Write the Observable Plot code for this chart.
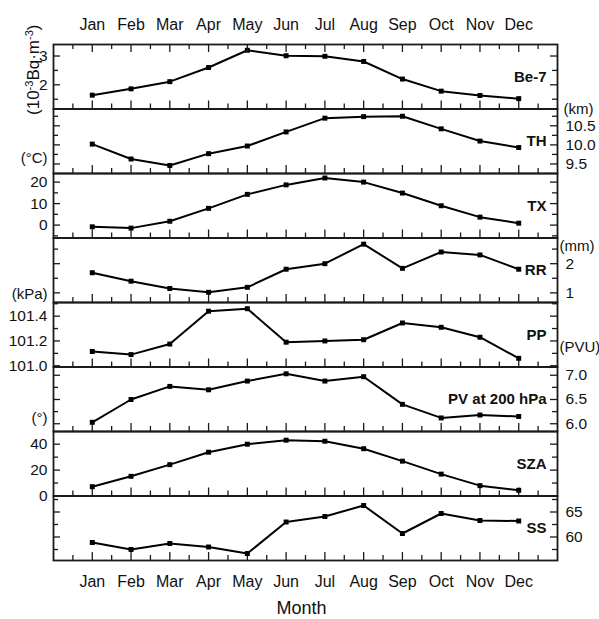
<!DOCTYPE html>
<html><head><meta charset="utf-8">
<script src="https://cdn.jsdelivr.net/npm/d3@7"></script>
<script src="https://cdn.jsdelivr.net/npm/@observablehq/plot@0.6"></script>
<style>
body{margin:0;background:#fff;}
#chart{position:relative;width:599px;height:619px;}
#chart svg{position:absolute;left:0;top:0;}
</style></head><body><div id="chart"></div>
<script>
const months = ["Jan","Feb","Mar","Apr","May","Jun","Jul","Aug","Sep","Oct","Nov","Dec"];
const be7 = [1.64,1.86,2.11,2.60,3.20,3.01,2.99,2.81,2.20,1.78,1.63,1.52];
const th  = [10.02,9.63,9.46,9.77,9.97,10.34,10.70,10.74,10.75,10.42,10.10,9.93];
const tx  = [-0.8,-1.4,1.8,7.8,14.3,18.7,21.9,20.0,14.9,9.0,3.7,0.9];
const rr  = [1.69,1.40,1.15,1.02,1.19,1.81,2.00,2.67,1.84,2.40,2.30,1.81];
const pp  = [101.115,101.09,101.175,101.44,101.46,101.19,101.20,101.21,101.345,101.31,101.23,101.06];
const pv  = [6.03,6.50,6.77,6.70,6.88,7.03,6.88,6.97,6.40,6.12,6.18,6.15];
const sza = [7.2,15.2,24.2,33.8,40.0,43.1,42.3,36.5,26.9,16.9,8.0,4.4];
const ss  = [58.9,57.5,58.7,58.0,56.7,63.0,64.1,66.3,60.7,64.7,63.3,63.2];

const panelNames = ["Be-7","TH","TX","RR","PP","PV at 200 hPa","SZA","SS"];
const panelValues = [be7,th,tx,rr,pp,pv,sza,ss];
const panelDomains = [[1.16,3.40],[9.25,10.94],[-6,24],[0.67,2.88],[100.99,101.51],[5.84,7.17],[0,49.8],[55.3,68.2]];
const majorTicks = [[2,3],[9.5,10,10.5],[0,10,20],[1,2],[101.0,101.2,101.4],[6.0,6.5,7.0],[0,20,40],[60,65]];
const minorTicks = [[1.5,2.5],[9.75,10.25,10.75],[-5,5,15],[1.5,2.5],[101.1,101.3,101.5],[6.25,6.75],[10,30],[57.5,62.5,67.5]];
const labelSide = ["left","right","left","right","left","right","left","right"];
const labelFormat = ["d",".1f","d","d",".1f",".1f","d","d"];

const W = 599, H = 619, ML = 53, MR = 42, TOP = 44, PH = 64.5;
const FW = W - ML - MR;
const ink = "#1a1a1a";
const monthIdx = months.map((m, i) => i + 1);
const halfTicks = d3.range(0.5, 13, 1);
const font = "'Liberation Sans',Arial,sans-serif";
const BQ = "(10-3Bq·m-3)";

const unitLabels = {
  0: [{text:BQ, frameAnchor:"left", dx:-20, dy:-7, rotate:-90, size:17}],
  1: [{text:"(°C)", frameAnchor:"bottom-left", dx:-6, dy:-11, textAnchor:"end"},
      {text:"(km)", frameAnchor:"top-right", dx:6, dy:-6, textAnchor:"start"}],
  3: [{text:"(kPa)", frameAnchor:"bottom-left", dx:-6, dy:-4, textAnchor:"end"},
      {text:"(mm)", frameAnchor:"top-right", dx:2, dy:2, textAnchor:"start"}],
  4: [{text:"(PVU)", frameAnchor:"bottom-right", dx:2, dy:-15, textAnchor:"start"}],
  5: [{text:"(°)", frameAnchor:"bottom-left", dx:-6, dy:-9, textAnchor:"end"}]
};

const chart = document.getElementById("chart");

panelNames.forEach((name, i) => {
  const mt = TOP + i * PH;
  const mb = H - TOP - (i + 1) * PH;
  const rows = months.map((m, j) => ({x: j + 1, y: panelValues[i][j]}));
  const side = labelSide[i];
  const fmt = d3.format(labelFormat[i]);
  const marks = [
    Plot.tickX(monthIdx, {x: d => d, insetTop: PH - 8, stroke: ink, strokeWidth: 1.3}),
    Plot.tickX(halfTicks, {x: d => d, insetTop: PH - 5, stroke: ink, strokeWidth: 1.3}),
    Plot.tickY(majorTicks[i], {y: d => d, insetRight: FW - 7, stroke: ink, strokeWidth: 1.3}),
    Plot.tickY(majorTicks[i], {y: d => d, insetLeft: FW - 7, stroke: ink, strokeWidth: 1.3}),
    Plot.tickY(minorTicks[i], {y: d => d, insetRight: FW - 5, stroke: ink, strokeWidth: 1.3}),
    Plot.tickY(minorTicks[i], {y: d => d, insetLeft: FW - 5, stroke: ink, strokeWidth: 1.3}),
    Plot.axisY(majorTicks[i], {anchor: side, tickSize: 0, tickPadding: side === "left" ? 6 : 8,
      tickFormat: fmt, fontSize: 15.5, label: null}),
    Plot.line(rows, {x: "x", y: "y", stroke: "#000", strokeWidth: 2}),
    Plot.dot(rows, {x: "x", y: "y", symbol: "square", r: 2.8, fill: "#000"}),
    Plot.text([name], {frameAnchor: "right", dx: -11, textAnchor: "end", fontWeight: "bold", fontSize: 15, fill: "#111"}),
    Plot.frame({stroke: ink, strokeWidth: 1.8})
  ];
  (unitLabels[i] || []).forEach(u => {
    marks.push(Plot.text([u.text], {frameAnchor: u.frameAnchor, dx: u.dx, dy: u.dy,
      rotate: u.rotate || 0, textAnchor: u.textAnchor || "middle", fontSize: u.size || 15, fill: "#111"}));
  });
  const xopt = {domain: [0, 13]};
  if (i === 0) {
    marks.push(Plot.tickX(monthIdx, {x: d => d, insetBottom: PH - 8, stroke: ink, strokeWidth: 1.3}));
    marks.push(Plot.tickX(halfTicks, {x: d => d, insetBottom: PH - 5, stroke: ink, strokeWidth: 1.3}));
    marks.push(Plot.axisX(monthIdx, {anchor: "top", tickSize: 0, tickPadding: 15,
      tickFormat: d => months[d - 1], fontSize: 16, label: null}));
  } else if (i === panelNames.length - 1) {
    marks.push(Plot.axisX(monthIdx, {anchor: "bottom", tickSize: 0, tickPadding: 15,
      tickFormat: d => months[d - 1], fontSize: 16, label: null}));
    marks.push(Plot.text(["Month"], {frameAnchor: "bottom", dx: -4, dy: 53, lineAnchor: "bottom",
      fontSize: 18, fill: "#111"}));
  } else {
    xopt.axis = null;
  }
  const svg = Plot.plot({
    width: W, height: H,
    marginLeft: ML, marginRight: MR, marginTop: mt, marginBottom: mb,
    x: xopt,
    y: {domain: panelDomains[i]},
    style: {fontFamily: font, fontSize: "16px", color: "#111", background: "transparent", overflow: "visible"},
    marks
  });
  // turn the exponents of the Be-7 unit into superscripts
  svg.querySelectorAll("text").forEach(t => {
    if (t.textContent === BQ) {
      t.innerHTML = '(10<tspan dy="-6" font-size="11">-3</tspan><tspan dy="6">Bq·m</tspan>' +
        '<tspan dy="-6" font-size="11">-3</tspan><tspan dy="6">)</tspan>';
    }
  });
  chart.appendChild(svg);
});
</script>
</body></html>
